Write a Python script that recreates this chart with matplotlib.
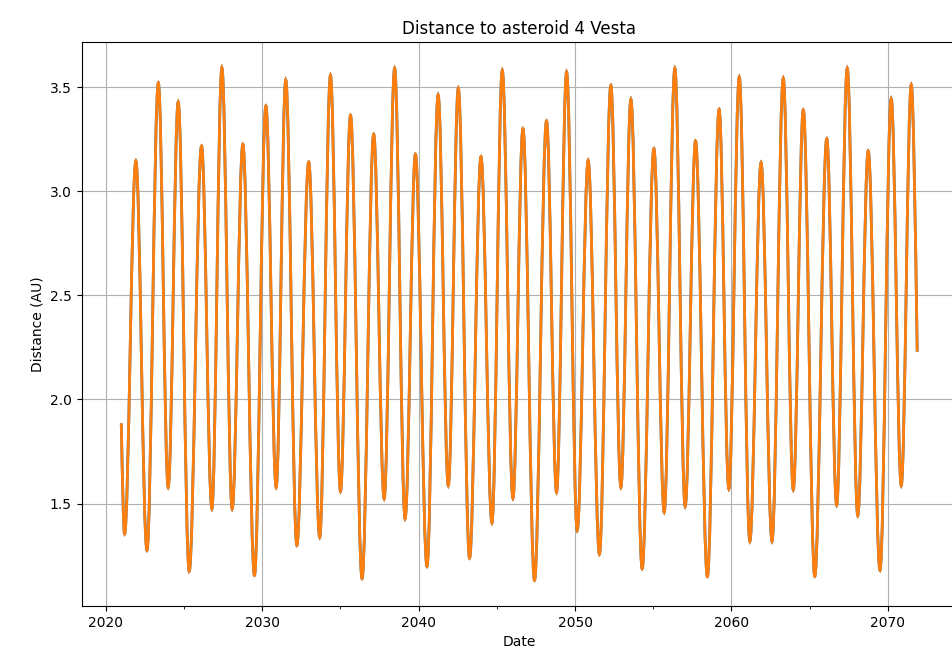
import datetime as dt
import numpy as np
import matplotlib
matplotlib.use("Agg")
import matplotlib.pyplot as plt
import matplotlib.dates as mdates
from matplotlib.path import Path
from matplotlib.patches import PathPatch

# ---- data (decimal years, distance in AU) ----
start_time, start_dist = 2021.00, 1.885
end_time, end_dist = 2071.87, 2.229

trough_times = [2021.21, 2022.64, 2024.00, 2025.34, 2026.79, 2028.09, 2029.51, 2030.90, 2032.22,
                2033.68, 2035.01, 2036.39, 2037.80, 2039.14, 2040.54, 2041.90, 2043.26, 2044.69,
                2046.03, 2047.41, 2048.82, 2050.14, 2051.56, 2052.93, 2054.29, 2055.70, 2057.04,
                2058.46, 2059.83, 2061.17, 2062.59, 2063.95, 2065.32, 2066.72, 2068.07, 2069.49,
                2070.85]
trough_dist = [1.355, 1.275, 1.578, 1.174, 1.474, 1.474, 1.155, 1.578, 1.299,
               1.338, 1.559, 1.139, 1.523, 1.427, 1.198, 1.586, 1.238, 1.407,
               1.525, 1.131, 1.554, 1.371, 1.256, 1.578, 1.187, 1.458, 1.486,
               1.149, 1.570, 1.318, 1.318, 1.566, 1.150, 1.493, 1.442, 1.179,
               1.586]
peak_times = [2021.93, 2023.37, 2024.64, 2026.13, 2027.43, 2028.77, 2030.24, 2031.51, 2032.98,
              2034.37, 2035.65, 2037.13, 2038.47, 2039.80, 2041.25, 2042.54, 2043.99, 2045.35,
              2046.67, 2048.18, 2049.46, 2050.84, 2052.29, 2053.57, 2055.04, 2056.38, 2057.70,
              2059.21, 2060.50, 2061.89, 2063.31, 2064.59, 2066.09, 2067.40, 2068.74, 2070.21,
              2071.49]
peak_dist = [3.145, 3.520, 3.428, 3.217, 3.593, 3.225, 3.409, 3.534, 3.140,
             3.556, 3.364, 3.273, 3.590, 3.177, 3.462, 3.494, 3.166, 3.580,
             3.300, 3.337, 3.572, 3.148, 3.508, 3.441, 3.204, 3.590, 3.241,
             3.393, 3.548, 3.137, 3.542, 3.390, 3.252, 3.590, 3.193, 3.444,
             3.510]


def to_num(year):
    y = int(np.floor(year))
    d = dt.datetime(y, 1, 1) + dt.timedelta(days=(year - y) * 365.25)
    return mdates.date2num(d)


# ordered extrema (alternating trough, peak)
ext_t, ext_v = [], []
for tt, tv, pt, pv in zip(trough_times, trough_dist, peak_times, peak_dist):
    ext_t += [tt, pt]
    ext_v += [tv, pv]

xs = [to_num(t) for t in ext_t]
x0s, xes = to_num(start_time), to_num(end_time)

# Cubic Bezier path through the extrema (horizontal tangents at extrema)
k = 0.364
verts = [(x0s, start_dist)]
codes = [Path.MOVETO]
dx = xs[0] - x0s
verts += [(x0s + dx / 3, start_dist + (ext_v[0] - start_dist) / 2),
          (xs[0] - dx / 3, ext_v[0]), (xs[0], ext_v[0])]
codes += [Path.CURVE4] * 3
for i in range(len(xs) - 1):
    a, b = xs[i], xs[i + 1]
    va, vb = ext_v[i], ext_v[i + 1]
    d = b - a
    verts += [(a + k * d, va), (b - k * d, vb), (b, vb)]
    codes += [Path.CURVE4] * 3
dx = xes - xs[-1]
verts += [(xs[-1] + dx / 3, ext_v[-1]),
          (xes - dx / 3, end_dist + (ext_v[-1] - end_dist) / 2), (xes, end_dist)]
codes += [Path.CURVE4] * 3
path = Path(verts, codes)

W, H = 953, 660
fig = plt.figure(figsize=(W / 100, H / 100), dpi=100)
ax = fig.add_axes([81.5 / W, 1 - 606 / H, (957 - 81.5) / W, (606 - 42) / H])

ax.add_patch(PathPatch(path, fill=False, edgecolor="#1f77b4", lw=2.0, zorder=2))
ax.add_patch(PathPatch(path, fill=False, edgecolor="#ff7f0e", lw=2.0, zorder=3))

vmin = min(min(trough_dist), start_dist)
vmax = max(peak_dist)
ax.set_xlim(x0s - 0.05 * (xes - x0s), xes + 0.05 * (xes - x0s))
ax.set_ylim(vmin - 0.05 * (vmax - vmin), vmax + 0.05 * (vmax - vmin))

ax.xaxis.set_major_locator(mdates.YearLocator(10))
ax.xaxis.set_minor_locator(mdates.YearLocator(5))
ax.xaxis.set_major_formatter(mdates.DateFormatter("%Y"))
ax.grid(True)
ax.set_title("Distance to asteroid 4 Vesta")
ax.set_xlabel("Date")
ax.set_ylabel("Distance (AU)")

fig.savefig("out.png", dpi=100)
